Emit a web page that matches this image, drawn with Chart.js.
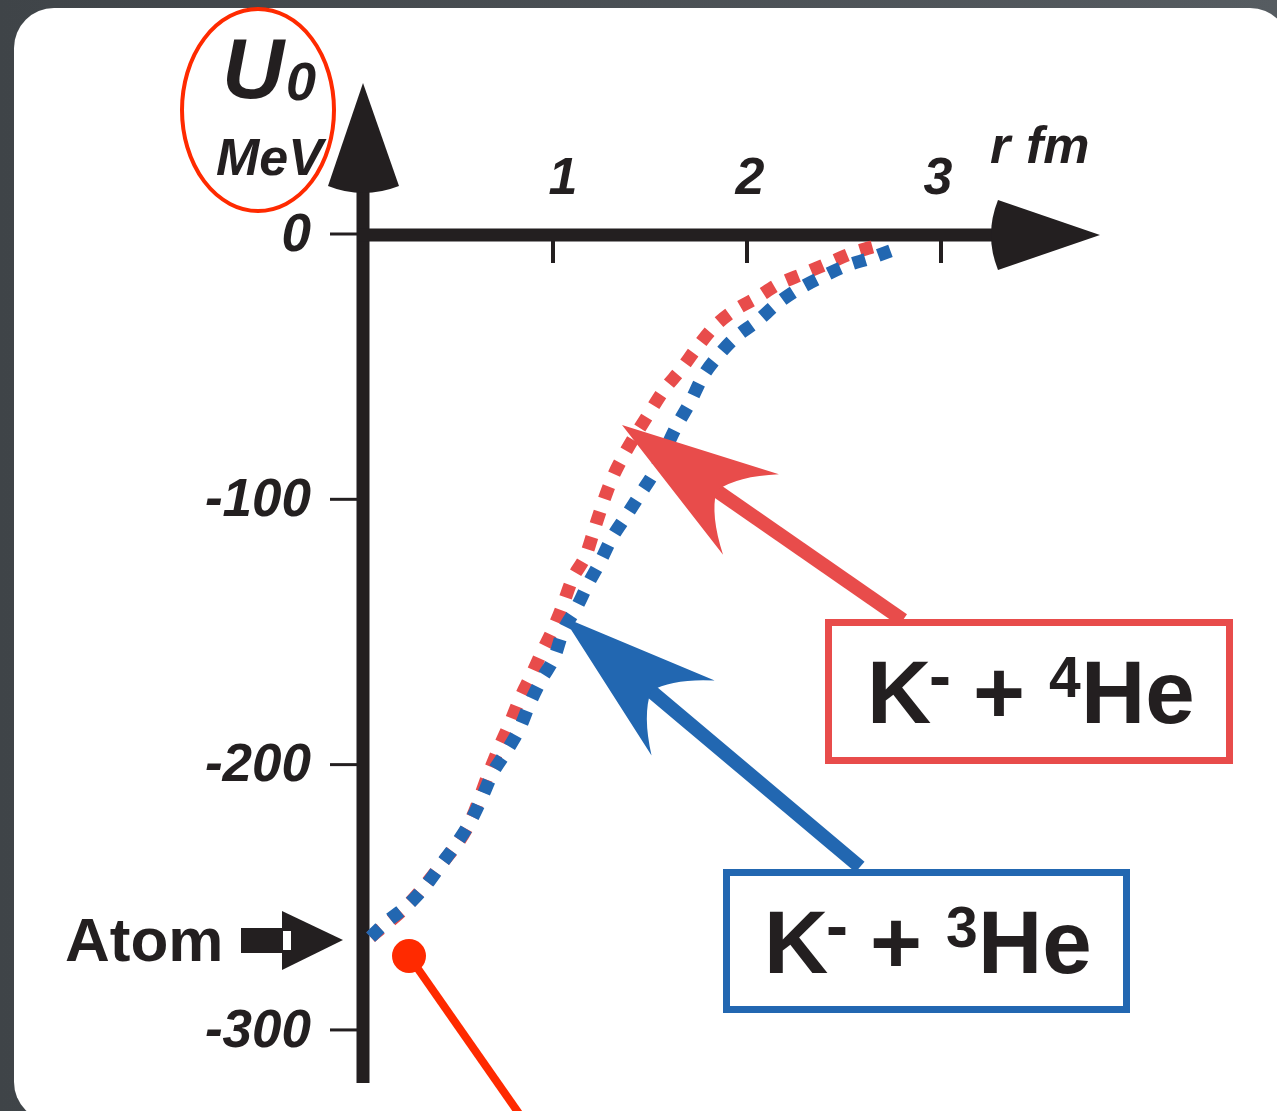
<!DOCTYPE html>
<html>
<head>
<meta charset="utf-8">
<script src="https://cdn.jsdelivr.net/npm/chart.js@4.4.1/dist/chart.umd.min.js"></script>
<style>
  html, body { margin: 0; padding: 0; background: #4d5358; }
  #wrap { width: 1277px; height: 1111px; }
</style>
</head>
<body>
<div id="wrap"><canvas id="potChart" width="1277" height="1111"></canvas></div>
<script>
// K- + 3He potential, r in fm, U0 in MeV
const r3He = [0.06, 0.13, 0.25, 0.34, 0.42, 0.50, 0.57, 0.63, 0.69, 0.76, 0.83, 0.88, 0.94, 1.01, 1.05, 1.12, 1.18, 1.24, 1.30, 1.38, 1.45, 1.52, 1.64, 1.71, 1.77, 1.85, 1.94, 2.05, 2.16, 2.26, 2.39, 2.51, 2.64, 2.79];
const u3He = [-265, -260, -253, -246, -238, -230, -222, -213, -203, -195, -186, -177, -168, -159, -150, -141, -132, -124, -115, -106, -98, -90, -72, -63, -54, -46, -39, -33, -26, -21, -16, -12, -9, -5];

// K- + 4He potential
const r4He = [0.06, 0.25, 0.42, 0.57, 0.67, 0.72, 0.78, 0.83, 0.89, 0.94, 1.00, 1.05, 1.10, 1.17, 1.21, 1.25, 1.30, 1.36, 1.50, 1.57, 1.66, 1.74, 1.83, 1.93, 2.05, 2.16, 2.29, 2.42, 2.55, 2.69];
const u4He = [-265, -253, -238, -222, -203, -194, -184, -175, -166, -158, -149, -140, -130, -121, -112, -103, -93, -84, -67, -59, -51, -43, -35, -29, -24, -19, -15, -11, -7, -4];

const xTicks = [1, 2, 3];
const yTicks = [0, -100, -200, -300];
const yTickLabels = ['0', '-100', '-200', '-300'];

const ink = '#231f20';
const redC = '#e84c4b';
const blueC = '#2267b1';
const markC = '#ff2a00';
const FONT = '"Liberation Sans", Arial, sans-serif';

function toXY(rs, us) {
  return rs.map((r, i) => ({ x: r, y: us[i] }));
}

function roundRect(ctx, x, y, w, h, r) {
  ctx.beginPath();
  ctx.moveTo(x + r, y);
  ctx.lineTo(x + w - r, y);
  ctx.arcTo(x + w, y, x + w, y + r, r);
  ctx.lineTo(x + w, y + h - r);
  ctx.arcTo(x + w, y + h, x + w - r, y + h, r);
  ctx.lineTo(x + r, y + h);
  ctx.arcTo(x, y + h, x, y + h - r, r);
  ctx.lineTo(x, y + r);
  ctx.arcTo(x, y, x + r, y, r);
  ctx.closePath();
}

// swept arrowhead + shaft, from tip towards end
function drawArrow(ctx, tx, ty, ex, ey, color) {
  const len = Math.hypot(ex - tx, ey - ty);
  const ux = (ex - tx) / len, uy = (ey - ty) / len;
  const nx = -uy, ny = ux;
  const P = (a, p) => [tx + ux * a + nx * p, ty + uy * a + ny * p];
  ctx.save();
  ctx.strokeStyle = color;
  ctx.fillStyle = color;
  ctx.lineWidth = 14;
  ctx.lineCap = 'butt';
  ctx.beginPath();
  const s = P(110, 0);
  ctx.moveTo(s[0], s[1]);
  ctx.lineTo(ex, ey);
  ctx.stroke();
  const b1 = P(157, -49), c1 = P(124, -24), m = P(115, 0), c2 = P(124, 24), b2 = P(157, 49);
  ctx.beginPath();
  ctx.moveTo(tx, ty);
  ctx.lineTo(b1[0], b1[1]);
  ctx.quadraticCurveTo(c1[0], c1[1], m[0], m[1]);
  ctx.quadraticCurveTo(c2[0], c2[1], b2[0], b2[1]);
  ctx.closePath();
  ctx.fill();
  ctx.restore();
}

function drawLabelBox(ctx, bx, by, bw, bh, color, kx, base, sup) {
  ctx.save();
  ctx.strokeStyle = color;
  ctx.lineWidth = 7;
  ctx.strokeRect(bx + 3.5, by + 3.5, bw - 7, bh - 7);
  ctx.fillStyle = ink;
  ctx.textAlign = 'left';
  ctx.textBaseline = 'alphabetic';
  ctx.font = 'bold 89px ' + FONT;
  ctx.fillText('K', kx, base);
  ctx.fillText('+', kx + 106, base);
  ctx.fillText('He', kx + 214, base);
  ctx.font = 'bold 66px ' + FONT;
  ctx.fillText('-', kx + 62, base - 25);
  ctx.font = 'bold 57px ' + FONT;
  ctx.fillText(sup, kx + 182, base - 26);
  ctx.restore();
}

const decor = {
  id: 'decor',
  beforeDraw(chart) {
    const ctx = chart.ctx;
    ctx.save();
    const g = ctx.createLinearGradient(0, 0, 1277, 0);
    g.addColorStop(0, '#3f4448');
    g.addColorStop(1, '#565c61');
    ctx.fillStyle = g;
    ctx.fillRect(0, 0, chart.width, chart.height);
    ctx.fillStyle = '#ffffff';
    roundRect(ctx, 14, 8, 1276, 1114, 40);
    ctx.fill();
    ctx.restore();
  },
  beforeDatasetsDraw(chart) {
    const ctx = chart.ctx;
    const xs = chart.scales.x, ys = chart.scales.y;
    const ax = xs.getPixelForValue(0) + 4;
    const ay = ys.getPixelForValue(0) + 1;
    const yBottom = ys.getPixelForValue(-320);
    ctx.save();
    ctx.fillStyle = ink;
    ctx.strokeStyle = ink;

    // y axis with arrowhead
    ctx.lineWidth = 13;
    ctx.beginPath();
    ctx.moveTo(ax, 180);
    ctx.lineTo(ax, yBottom);
    ctx.stroke();
    ctx.beginPath();
    ctx.moveTo(ax, 83);
    ctx.lineTo(ax - 35, 186);
    ctx.quadraticCurveTo(ax, 200, ax + 36, 186);
    ctx.closePath();
    ctx.fill();

    // x axis with arrowhead
    ctx.beginPath();
    ctx.moveTo(ax - 6, ay);
    ctx.lineTo(1000, ay);
    ctx.stroke();
    ctx.beginPath();
    ctx.moveTo(1100, ay);
    ctx.lineTo(998, ay - 35);
    ctx.quadraticCurveTo(984, ay, 998, ay + 35);
    ctx.closePath();
    ctx.fill();

    // y ticks + labels
    ctx.lineWidth = 3;
    ctx.font = 'italic bold 53px ' + FONT;
    ctx.textAlign = 'right';
    ctx.textBaseline = 'middle';
    yTicks.forEach((v, i) => {
      const py = ys.getPixelForValue(v);
      ctx.beginPath();
      ctx.moveTo(ax - 33, py);
      ctx.lineTo(ax - 6, py);
      ctx.stroke();
      ctx.fillText(yTickLabels[i], 311, py + 2);
    });

    // x ticks + labels (above the axis)
    const nudge = [10, 3, -3];
    ctx.lineWidth = 4;
    ctx.textAlign = 'center';
    ctx.font = 'italic bold 52px ' + FONT;
    xTicks.forEach((v, i) => {
      const px = xs.getPixelForValue(v);
      ctx.beginPath();
      ctx.moveTo(px, ay + 6);
      ctx.lineTo(px, ay + 28);
      ctx.stroke();
      ctx.fillText(String(v), px + nudge[i], 180);
    });

    // axis titles
    ctx.textAlign = 'left';
    ctx.textBaseline = 'alphabetic';
    ctx.font = 'italic bold 86px ' + FONT;
    ctx.fillText('U', 222, 98);
    ctx.font = 'italic bold 54px ' + FONT;
    ctx.fillText('0', 286, 100);
    ctx.font = 'italic bold 52px ' + FONT;
    ctx.fillText('MeV', 216, 175);
    ctx.font = 'italic bold 52px ' + FONT;
    ctx.fillText('r', 990, 163);
    ctx.fillText('fm', 1026, 163);

    // Atom marker
    ctx.font = 'bold 62px ' + FONT;
    ctx.fillText('Atom', 65, 961);
    ctx.beginPath();
    ctx.moveTo(282, 911);
    ctx.lineTo(343, 940);
    ctx.lineTo(282, 970);
    ctx.closePath();
    ctx.fill();
    ctx.fillRect(241, 928, 50, 25);
    ctx.fillStyle = '#ffffff';
    ctx.fillRect(283, 931, 8, 19);
    ctx.restore();
  },
  afterDatasetsDraw(chart) {
    const ctx = chart.ctx;
    drawArrow(ctx, 622, 425, 903, 620, redC);
    drawArrow(ctx, 563, 617, 860, 867, blueC);
    drawLabelBox(ctx, 825, 619, 408, 145, redC, 867, 723, '4');
    drawLabelBox(ctx, 723, 869, 407, 144, blueC, 764, 973, '3');

    ctx.save();
    // red pointer from bound state
    ctx.strokeStyle = markC;
    ctx.fillStyle = markC;
    ctx.lineWidth = 8;
    ctx.beginPath();
    ctx.moveTo(409, 956);
    ctx.lineTo(527, 1125);
    ctx.stroke();
    ctx.beginPath();
    ctx.arc(409, 956, 17, 0, Math.PI * 2);
    ctx.fill();
    // ellipse around the y title
    ctx.lineWidth = 4;
    ctx.beginPath();
    ctx.ellipse(258, 110, 76, 101, 0, 0, Math.PI * 2);
    ctx.stroke();
    ctx.restore();
  }
};

const ctx = document.getElementById('potChart').getContext('2d');
new Chart(ctx, {
  type: 'line',
  data: {
    datasets: [
      {
        label: 'K- + 3He',
        data: toXY(r3He, u3He),
        borderColor: blueC,
        borderWidth: 13,
        borderDash: [13, 13.5],
        borderCapStyle: 'butt',
        cubicInterpolationMode: 'monotone',
        pointRadius: 0,
        fill: false,
        clip: false
      },
      {
        label: 'K- + 4He',
        data: toXY(r4He, u4He),
        borderColor: redC,
        borderWidth: 13,
        borderDash: [13, 13.5],
        borderCapStyle: 'butt',
        cubicInterpolationMode: 'monotone',
        pointRadius: 0,
        fill: false,
        clip: false
      }
    ]
  },
  options: {
    responsive: false,
    devicePixelRatio: 1,
    animation: false,
    layout: { padding: { left: 359, right: 142, top: 234, bottom: 28 } },
    scales: {
      x: { type: 'linear', min: 0, max: 4, display: false },
      y: { type: 'linear', min: -320, max: 0, display: false }
    },
    plugins: {
      legend: { display: false },
      tooltip: { enabled: false }
    }
  },
  plugins: [decor]
});
</script>
</body>
</html>
